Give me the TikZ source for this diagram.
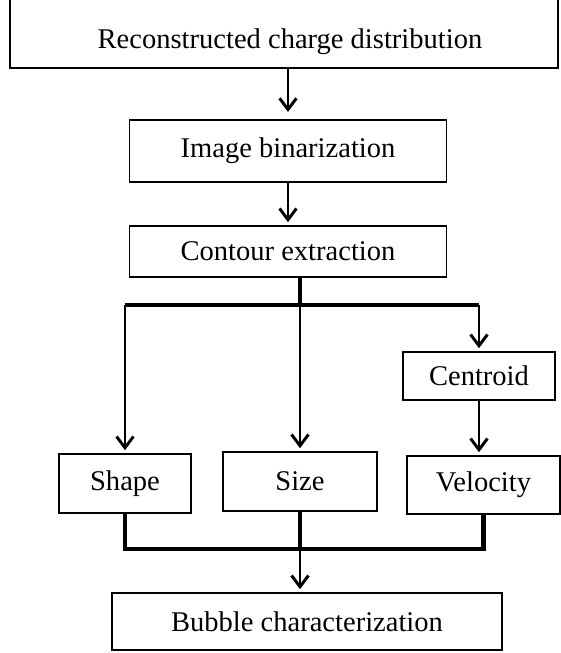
\documentclass[tikz,border=0pt]{standalone}
\usepackage{fontspec}
\setmainfont{Liberation Serif}
\usetikzlibrary{positioning}
\usetikzlibrary{arrows.meta}

\begin{document}
\begin{tikzpicture}
	[stepbox/.style={draw, rectangle, line width=1.4pt, inner sep=0pt, font=\fontsize{20.3}{24}\selectfont},
	flow/.style={line width=2.1pt, -{Straight Barb[length=8pt,width=12pt,line width=2.1pt]}, shorten >=2pt},
	bus/.style={line width=3.2pt}]

\useasboundingbox (0,0) rectangle (14.025,-16.325);

\node [stepbox, line width=2pt, minimum width=13.7cm, minimum height=1.9cm, text height=1.05cm, text depth=0.15cm] (recon) at (7.1,-0.75) {\hspace{0.3cm}Reconstructed charge distribution};
\node [stepbox, minimum width=7.925cm, minimum height=1.55cm] (image) at (7.2,-3.775) {Image binarization};
\node [stepbox, minimum width=7.925cm, minimum height=1.275cm] (contour) at (7.2,-6.2875) {Contour extraction};
\node [stepbox, minimum width=3.8cm, minimum height=1.2cm] (centroid) at (11.975,-9.4) {Centroid};
\node [stepbox, minimum width=3.3cm, minimum height=1.475cm] (shape) at (3.125,-12.0875) {Shape};
\node [stepbox, minimum width=3.85cm, minimum height=1.475cm] (size) at (7.5,-12.0375) {Size};
\node [stepbox, minimum width=3.825cm, minimum height=1.45cm] (velocity) at (12.0875,-12.125) {Velocity};
\node [stepbox, minimum width=9.75cm, minimum height=1.425cm] (bubble) at (7.675,-15.5375) {Bubble characterization};

\coordinate (split) at (7.5,-7.625);
\coordinate (join) at (7.5,-13.725);

\draw [flow, shorten >=5pt] (recon.south -| image.north) -- (image.north);
\draw [flow] (image.south) -- (contour.north);

\draw [bus] (contour.south -| size.north) -- (size.north |- split);
\draw [bus] (shape.north |- split) -- (centroid.north |- split);
\draw [flow] (shape.north |- split) -- (shape.north);
\draw [flow] (size.north |- split) -- (size.north);
\draw [flow] (centroid.north |- split) -- (centroid.north);
\draw [flow] (centroid.south) -- (centroid.south |- velocity.north);

\draw [bus] (shape.south) -- (shape.south |- join) -- (velocity.south |- join) -- (velocity.south);
\draw [bus] (size.south) -- (size.south |- join);
\draw [flow] (size.south |- join) -- (size.south |- bubble.north);

\end{tikzpicture}
\end{document}
